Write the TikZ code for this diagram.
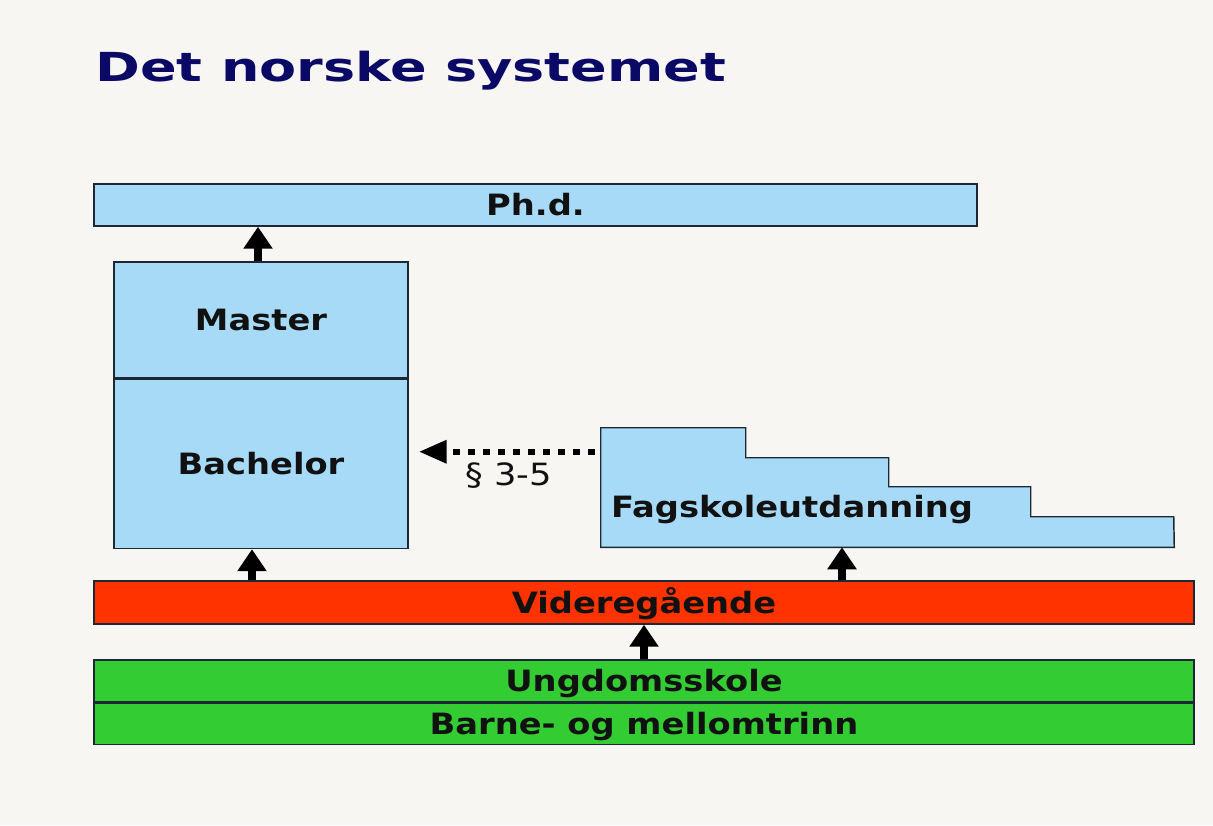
\documentclass[tikz,border=0pt]{standalone}
\usepackage{fontspec}
\setmainfont{DejaVu Sans}[FakeStretch=1.15]
\newfontfamily\titlefont{DejaVu Sans}[FakeStretch=1.35]
\usetikzlibrary{arrows.meta,positioning,calc}

\definecolor{bgcol}{HTML}{F8F6F2}
\definecolor{boxblue}{HTML}{A6DAF7}
\definecolor{vgsred}{HTML}{FF3300}
\definecolor{grunngreen}{HTML}{33CC33}
\definecolor{titleblue}{HTML}{0A0A66}
\definecolor{edgecol}{HTML}{1C2833}
\definecolor{txtcol}{HTML}{111111}

\begin{document}
\begin{tikzpicture}[
  x=0.75pt, y=-0.75pt,
  font=\fontsize{22}{26}\selectfont\bfseries,
  % Node Styles
  edu_box/.style={draw=edgecol, line width=1.1pt, fill=boxblue, inner sep=0pt, text=txtcol, text height=16pt, text depth=0pt},
  wide_bar/.style={draw=edgecol, line width=1.1pt, inner sep=0pt, text=txtcol, minimum width=825pt, text height=16pt, text depth=0pt},
  % Line Styles
  up_arrow/.style={-{Triangle[length=16.5pt, width=21pt]}, line width=6.5pt, black},
  dot_arrow/.style={-{Triangle[length=21pt, width=16.5pt]}, line width=4.8pt, black, dash pattern=on 5.25pt off 6pt},
  % Label Styles
  title_lbl/.style={font=\titlefont\fontsize{30}{34}\selectfont\bfseries, text=titleblue, inner sep=0pt},
  lbl/.style={font=\fontsize{23}{26}\selectfont, text=txtcol, inner sep=0pt}
]

% background and margins
\path[use as bounding box, fill=bgcol] (0,0) rectangle (1213,825);

% ================= NODES =================

\node[title_lbl, anchor=base west] (title) at (95,81) {Det norske systemet};

% --- Higher education ---
\node[edu_box, minimum width=662.25pt, minimum height=31.5pt] (phd) at (535.5,205) {Ph.d.};
\node[edu_box, minimum width=220.5pt, minimum height=87pt] (master) at (261,320) {Master};
\node[edu_box, minimum width=220.5pt, minimum height=126.75pt, below=0pt of master] (bach) {Bachelor};

% --- Fagskole (stair shape) ---
\node[inner sep=0pt, minimum width=429.75pt, minimum height=89.25pt] (fag) at (887.5,487.5) {};
\draw[draw=edgecol, line width=1.1pt, fill=boxblue] (fag.north west) -- ++(145,0) -- ++(0,30) -- ++(143,0) -- ++(0,29)
  -- ++(142,0) -- ++(0,30) -- ++(143,0) -- (fag.south east) -- (fag.south west) -- cycle;
\node[text=txtcol, inner sep=0pt, anchor=base west] (fagtxt) at ($(fag.south west)+(10,-30)$) {Fagskoleutdanning};

% --- School ---
\node[wide_bar, fill=vgsred, minimum height=32.25pt] (vgs) at (644,602.5) {Videregående};
\node[wide_bar, fill=grunngreen, minimum height=31.5pt] (ungdom) at (644,681) {Ungdomsskole};
\node[wide_bar, fill=grunngreen, minimum height=30.75pt, below=0pt of ungdom] (barne) {Barne- og mellomtrinn};

% ================= CONNECTIONS =================

\draw[up_arrow] ($(master.north)+(-3,0)$) coordinate (mup) -- (mup |- phd.south);
\draw[up_arrow] ($(vgs.north -| bach)+(-9,0)$) coordinate (bup) -- (bup |- bach.south);
\draw[up_arrow] ($(vgs.north -| fag)+(-45.5,0)$) coordinate (fup) -- (fup |- fag.south);
\draw[up_arrow] (ungdom.north) -- (vgs.south);

% dotted admission route
\coordinate (dotstart) at ($(fag.north west)+(-6,24)$);
\draw[dot_arrow] (dotstart) -- ($(dotstart -| bach.east)+(10,0)$) coordinate (dotend);
\node[lbl, anchor=north] (paragraf) at ($(dotstart)!0.5!(dotend)+(2,11)$) {§ 3-5};

\end{tikzpicture}
\end{document}
